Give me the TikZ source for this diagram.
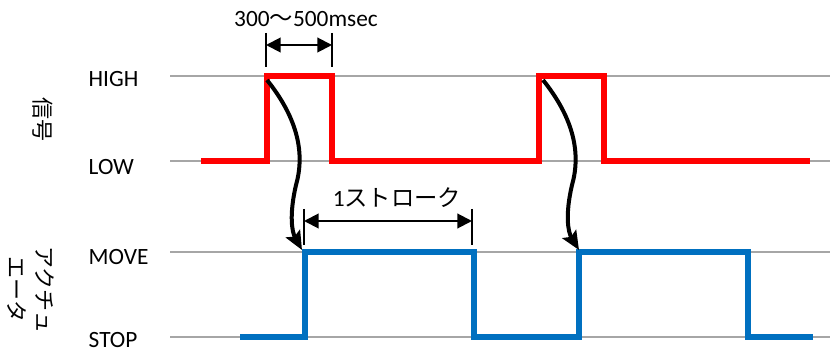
\documentclass[tikz,border=0pt]{standalone}
\usepackage{fontspec}
\setmainfont{Carlito}
\newfontfamily\jp{Noto Sans CJK JP}
\usetikzlibrary{arrows.meta, calc}
\definecolor{sigred}{RGB}{255,0,0}
\definecolor{actblue}{RGB}{0,112,192}
\definecolor{gridgray}{RGB}{166,166,166}

\begin{document}
\begin{tikzpicture}[x=0.75pt, y=-0.75pt, every node/.style={font=\fontsize{17.5}{20}\selectfont},
  level/.style={gridgray, line width=1.5pt},
  wave/.style={line width=4.5pt, line join=miter},
  dim/.style={{Triangle[length=11pt, width=11pt]}-{Triangle[length=11pt, width=11pt]}, line width=1.5pt},
  tick/.style={line width=1pt},
  cause/.style={-{Stealth[length=14pt, width=12pt, inset=2.5pt]}, line width=3pt},
  jplabel/.style={rotate=-90, align=center, font=\jp\fontsize{16.5}{21}\selectfont}]
  \useasboundingbox (0,0) rectangle (830,352);
  % level lines
  \coordinate (high) at (170,76);
  \coordinate (low) at (170,161);
  \coordinate (move) at (170,252);
  \coordinate (stop) at (170,337);
  \draw[level] (high) -- ($(high)+(660,0)$);
  \draw[level] (low) -- ($(low)+(660,0)$);
  \draw[level] (move) -- ($(move)+(660,0)$);
  \draw[level] (stop) -- ($(stop)+(660,0)$);
  \node[anchor=base west] (highlbl) at (84,87) {HIGH};
  \node[anchor=base west] (lowlbl) at (84,175) {LOW};
  \node[anchor=base west] (movelbl) at (84,265) {MOVE};
  \node[anchor=base west] (stoplbl) at (84,347) {STOP};
  \node[jplabel] (signal) at (42.5,120) {信号};
  \node[jplabel] (actuator) at (31,290) {アクチュ\\エータ};
  % waveforms
  \draw[wave, sigred] (201,161) -- (266.5,161) -- (266.5,76) -- (332,76) -- (332,161) -- (538.5,161) -- (538.5,76) -- (604,76) -- (604,161) -- (810,161);
  \draw[wave, actblue] (240,337) -- (304.5,337) -- (304.5,252) -- (474,252) -- (474,337) -- (579,337) -- (579,252) -- (748,252) -- (748,337) -- (813,337);
  % pulse width
  \coordinate (pw1) at (266,45);
  \coordinate (pw2) at (332,45);
  \draw[tick] ($(pw1)+(0,-12)$) -- ($(pw1)+(0,22)$);
  \draw[tick] ($(pw2)+(0,-12)$) -- ($(pw2)+(0,22)$);
  \draw[dim] (pw1) -- (pw2);
  \node (pwtext) at (306,19) {300{\jp ～}500msec};
  % stroke
  \coordinate (st1) at (304,221);
  \coordinate (st2) at (472,221);
  \draw[tick] ($(st1)+(0,-12)$) -- ($(st1)+(0,24)$);
  \draw[tick] ($(st2)+(0,-12)$) -- ($(st2)+(0,24)$);
  \draw[dim] (st1) -- (st2);
  \node (sttext) at (397,198) {1{\jp ストローク}};
  % cause arrows
  \coordinate (rise1) at (267,80);
  \coordinate (go1) at (302,250);
  \coordinate (rise2) at (543,80);
  \coordinate (go2) at (579,250);
  \draw[cause] (rise1) .. controls (295,115) and (306,150) .. (296,185) .. controls (289,215) and (292,232) .. (go1);
  \draw[cause] (rise2) .. controls (571,115) and (582,150) .. (572,185) .. controls (565,215) and (568,232) .. (go2);
\end{tikzpicture}
\end{document}
